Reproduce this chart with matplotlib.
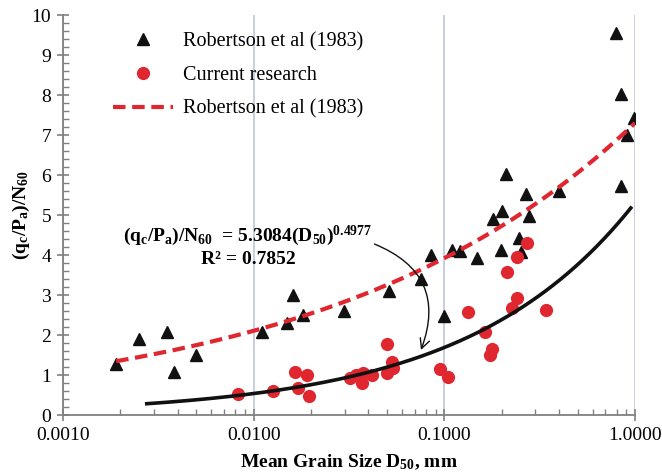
import numpy as np
import matplotlib
matplotlib.use("Agg")
import matplotlib.pyplot as plt
from matplotlib.ticker import MultipleLocator, LogLocator, NullFormatter, FormatStrFormatter

# Robertson et al. (1983) database points
rob_d50 = [0.0019, 0.0025, 0.0035, 0.0038, 0.0050, 0.0110, 0.0150, 0.0161, 0.0181,
           0.0298, 0.0512, 0.0751, 0.0848, 0.1000, 0.1092, 0.1207, 0.1488, 0.1790,
           0.1996, 0.1980, 0.2104, 0.2470, 0.2530, 0.2680, 0.2790, 0.4000, 0.7940,
           0.8440, 0.8466, 0.9030, 0.9870]
rob_ratio = [1.27, 1.89, 2.08, 1.08, 1.50, 2.08, 2.31, 3.00, 2.50,
             2.61, 3.10, 3.40, 4.00, 2.48, 4.13, 4.11, 3.92, 4.90,
             5.11, 4.13, 6.03, 4.42, 4.08, 5.53, 4.98, 5.60, 9.54,
             5.73, 8.02, 7.00, 7.42]

# Current research points
cur_d50 = [0.0083, 0.0126, 0.0165, 0.0190, 0.0171, 0.0196, 0.0320, 0.0345, 0.0368,
           0.0376, 0.0416, 0.0498, 0.0498, 0.0529, 0.0540, 0.0949, 0.1048, 0.1334,
           0.1633, 0.1730, 0.1770, 0.2138, 0.2270, 0.2394, 0.2394, 0.2700, 0.3410]
cur_ratio = [0.52, 0.60, 1.08, 1.00, 0.67, 0.48, 0.93, 1.00, 0.79,
             1.04, 1.00, 1.77, 1.04, 1.33, 1.17, 1.14, 0.96, 2.57,
             2.08, 1.50, 1.65, 3.57, 2.68, 2.93, 3.94, 4.31, 2.63]

# Power-law fit to current research: (qc/Pa)/N60 = a * D50^b
fit_a, fit_b = 5.3084, 0.4977
fit_range = (0.00275, 0.95)

# Robertson et al. (1983) trend curve
rob_a, rob_b = 7.3, 0.27
rob_range = (0.0019, 1.0)

x_ticks = [0.001, 0.01, 0.1, 1.0]

RED = "#e0262f"
BLACK = "#111111"
AXIS_GREY = "#808080"

plt.rcParams["font.family"] = ["Liberation Serif", "DejaVu Serif"]
plt.rcParams["mathtext.default"] = "regular"

fig = plt.figure(figsize=(6.62, 4.75), dpi=100)
ax = fig.add_axes([63 / 662, 60 / 475, 572 / 662, 400 / 475])
ax.set_xscale("log")
ax.set_xlim(x_ticks[0], x_ticks[-1])
ax.set_ylim(0, 10)

ax.plot(rob_d50, rob_ratio, linestyle="none", marker="^", markersize=8.5,
        color=BLACK, label="Robertson et al (1983)", zorder=3)
ax.plot(cur_d50, cur_ratio, linestyle="none", marker="o", markersize=9.5,
        color=RED, markeredgewidth=0, label="Current research", zorder=4)

xr = np.logspace(np.log10(rob_range[0]), np.log10(rob_range[1]), 200)
ax.plot(xr, rob_a * xr ** rob_b, linestyle=(0, (3, 1.6)), color=RED, lw=3,
        label="Robertson et al (1983)", zorder=5)

xf = np.logspace(np.log10(fit_range[0]), np.log10(fit_range[1]), 200)
ax.plot(xf, fit_a * xf ** fit_b, color=BLACK, lw=2.6, zorder=6)

# axes styling
for side in ("top", "right"):
    ax.spines[side].set_visible(False)
for side in ("left", "bottom"):
    ax.spines[side].set_color(AXIS_GREY)
    ax.spines[side].set_linewidth(1.3)

ax.xaxis.set_major_locator(plt.FixedLocator(x_ticks))
ax.xaxis.set_major_formatter(FormatStrFormatter("%.4f"))
ax.xaxis.set_minor_locator(LogLocator(base=10, subs=np.arange(2, 10)))
ax.xaxis.set_minor_formatter(NullFormatter())
ax.yaxis.set_major_locator(MultipleLocator(1))
ax.yaxis.set_minor_locator(MultipleLocator(0.2))

ax.tick_params(which="major", direction="inout", length=9, width=1.2,
               color=AXIS_GREY, labelsize=14, pad=4)
ax.tick_params(which="minor", direction="in", length=4, width=1.0, color=AXIS_GREY)
ax.xaxis.grid(True, which="major", color="#c3cade", lw=1.3)
ax.set_axisbelow(True)

ax.set_xlabel("Mean Grain Size D$_{50}$, mm", fontsize=14, fontweight="bold", labelpad=6)
ax.set_ylabel("(q$_{c}$/P$_{a}$)/N$_{60}$", fontsize=14, fontweight="bold", labelpad=0)

leg = ax.legend(loc="upper left", bbox_to_anchor=(0.087, 0.957), frameon=False,
                fontsize=14.5, handlelength=3.0, handletextpad=0.5,
                labelspacing=0.72, borderaxespad=0, borderpad=0)

ax.text(0.00933, 4.47, "(q$_{c}$/P$_{a}$)/N$_{60}$  = 5.3084(D$_{50}$)$^{0.4977}$",
        ha="center", va="center", fontsize=14, fontweight="bold", zorder=7)
ax.text(0.00933, 3.88, "R² = 0.7852", ha="center", va="center",
        fontsize=14, fontweight="bold", zorder=7)

ax.annotate("", xy=(0.0745, 1.56), xytext=(0.0417, 4.3),
            arrowprops=dict(arrowstyle="->,head_length=0.7,head_width=0.35",
                            connectionstyle="arc3,rad=-0.5", color=BLACK, lw=1.0),
            zorder=7)

fig.savefig("out.png", dpi=100)
